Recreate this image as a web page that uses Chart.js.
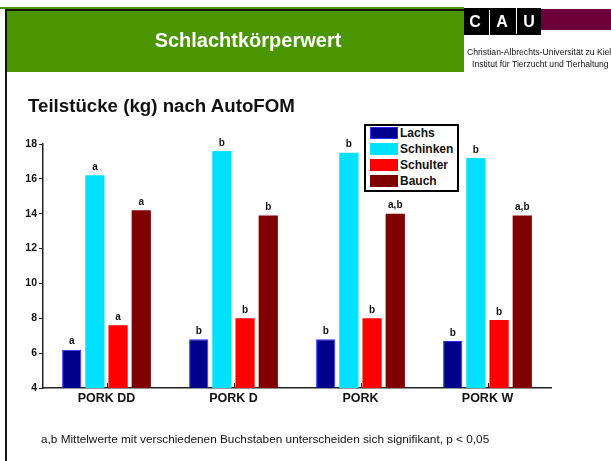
<!DOCTYPE html>
<html>
<head>
<meta charset="utf-8">
<script src="https://cdn.jsdelivr.net/npm/chart.js@4.4.1/dist/chart.umd.min.js"></script>
<style>
  body { margin: 0; width: 611px; height: 461px; overflow: hidden; background: #fff; font-family: Arial, "Liberation Sans", sans-serif; }
  .abs { position: absolute; }
  #chart { position: absolute; left: 0; top: 0; }
  #legend { position: absolute; left: 364px; top: 124px; width: 91px; height: 63px; border: 2px solid #000; background: #fff; padding-top: 1px; box-sizing: content-box; }
  .row { height: 16px; position: relative; }
  .sw { position: absolute; left: 4px; top: 0; width: 28px; height: 12px; box-sizing: border-box; }
  .lbl { position: absolute; left: 34px; top: -1px; font: bold 12px Arial, "Liberation Sans", sans-serif; line-height: 14px; color: #111; white-space: nowrap; }
</style>
</head>
<body>
<canvas id="chart" width="611" height="461"></canvas>

<div class="abs" style="left:0;top:7px;width:464px;height:2px;background:#4b9500"></div>
<div class="abs" style="left:5px;top:9px;width:459px;height:2px;background:#111"></div>
<div class="abs" style="left:5px;top:9px;width:2px;height:452px;background:#111"></div>
<div class="abs" style="left:7px;top:11px;width:457px;height:61px;background:#4b9500"></div>
<div class="abs" style="left:0;top:28px;width:496px;text-align:center;color:#fff;font:bold 20px Arial, 'Liberation Sans', sans-serif;line-height:24px">Schlachtkörperwert</div>

<div class="abs" style="left:464px;top:8px;width:77px;height:27px;background:#000"></div>
<div class="abs" style="left:541px;top:9px;width:70px;height:21px;background:#6d0039"></div>
<div class="abs" style="left:489px;top:10px;width:1px;height:25px;background:#fff"></div>
<div class="abs" style="left:516px;top:8px;width:1px;height:26px;background:#fff"></div>
<div class="abs" style="left:467px;top:12px;width:16px;text-align:center;color:#fff;font:bold 16px Arial, 'Liberation Sans', sans-serif;line-height:20px">C</div>
<div class="abs" style="left:494px;top:12px;width:16px;text-align:center;color:#fff;font:bold 16px Arial, 'Liberation Sans', sans-serif;line-height:20px">A</div>
<div class="abs" style="left:521px;top:12px;width:16px;text-align:center;color:#fff;font:bold 16px Arial, 'Liberation Sans', sans-serif;line-height:20px">U</div>
<div class="abs" style="left:467px;top:47px;color:#111;font:8.6px Arial, 'Liberation Sans', sans-serif;line-height:10px;white-space:nowrap">Christian-Albrechts-Universität zu Kiel</div>
<div class="abs" style="left:472px;top:59px;color:#111;font:8.6px Arial, 'Liberation Sans', sans-serif;line-height:10px;white-space:nowrap">Institut für Tierzucht und Tierhaltung</div>

<div class="abs" style="left:28px;top:95px;color:#111;font:bold 18.7px Arial, 'Liberation Sans', sans-serif;line-height:22px;white-space:nowrap">Teilstücke (kg) nach AutoFOM</div>

<div id="legend"></div>

<div class="abs" style="left:41px;top:433px;color:#111;font:11.8px Arial, 'Liberation Sans', sans-serif;line-height:13px;white-space:nowrap">a,b Mittelwerte mit verschiedenen Buchstaben unterscheiden sich signifikant, p &lt; 0,05</div>

<script>
// categories and series
const categories = ['PORK DD', 'PORK D', 'PORK', 'PORK W'];
const seriesNames = ['Lachs', 'Schinken', 'Schulter', 'Bauch'];

const lachs    = [6.2, 6.8, 6.8, 6.7];
const schinken = [16.2, 17.6, 17.5, 17.2];
const schulter = [7.6, 8.0, 8.0, 7.9];
const bauch    = [14.2, 13.9, 14.0, 13.9];

// significance letters above the bars
const sigLachs    = ['a', 'b', 'b', 'b'];
const sigSchinken = ['a', 'b', 'b', 'b'];
const sigSchulter = ['a', 'b', 'b', 'b'];
const sigBauch    = ['a', 'b', 'a,b', 'a,b'];

const yTicks = [4, 6, 8, 10, 12, 14, 16, 18];

const colors = ['#00008c', '#00e1ff', '#ff0000', '#800000'];
const borders = ['#2a2aff', '#00e1ff', '#ff0000', '#800000'];

const values = [lachs, schinken, schulter, bauch];
const sigs = [sigLachs, sigSchinken, sigSchulter, sigBauch];

// html legend
const legendEl = document.getElementById('legend');
seriesNames.forEach((name, i) => {
    const row = document.createElement('div');
    row.className = 'row';
    row.innerHTML = '<div class="sw" style="background:' + colors[i] + ';border:1px solid ' + borders[i] + '"></div>' +
        '<div class="lbl">' + name + '</div>';
    legendEl.appendChild(row);
});

const barLabels = {
    id: 'barLabels',
    afterDatasetsDraw(chart) {
        const ctx = chart.ctx;
        ctx.save();
        ctx.font = 'bold 10px Arial, "Liberation Sans", sans-serif';
        ctx.fillStyle = '#111';
        ctx.textAlign = 'center';
        ctx.textBaseline = 'bottom';
        chart.data.datasets.forEach((ds, di) => {
            chart.getDatasetMeta(di).data.forEach((bar, i) => {
                ctx.fillText(ds.sig[i], bar.x, bar.y - 3);
            });
        });
        ctx.restore();
    }
};

// little inward ticks at the category centres
const innerTicks = {
    id: 'innerTicks',
    afterDatasetsDraw(chart) {
        const ctx = chart.ctx;
        const xs = chart.scales.x;
        const bottom = chart.chartArea.bottom;
        ctx.save();
        ctx.strokeStyle = '#222';
        ctx.lineWidth = 1;
        categories.forEach((c, i) => {
            const x = Math.round(xs.getPixelForValue(i)) + 0.5;
            ctx.beginPath();
            ctx.moveTo(x, bottom);
            ctx.lineTo(x, bottom - 5);
            ctx.stroke();
        });
        ctx.restore();
    }
};

const font = 'Arial, "Liberation Sans", sans-serif';

new Chart(document.getElementById('chart'), {
    type: 'bar',
    data: {
        labels: categories,
        datasets: seriesNames.map((name, i) => ({
            label: name,
            data: values[i],
            sig: sigs[i],
            backgroundColor: colors[i],
            borderColor: borders[i],
            borderWidth: i === 0 ? 1 : 0,
            categoryPercentage: 0.73,
            barPercentage: 0.83
        }))
    },
    options: {
        responsive: false,
        animation: false,
        layout: { padding: { left: 0, top: 144, right: 60, bottom: 48 } },
        plugins: {
            legend: { display: false },
            tooltip: { enabled: false }
        },
        scales: {
            x: {
                grid: { display: false, drawTicks: false },
                border: { display: true, color: '#222', width: 1.5 },
                ticks: { font: { family: font, size: 12.5, weight: 'bold' }, color: '#111', padding: 3 },
                afterFit: s => { s.height = 25; }
            },
            y: {
                min: 4,
                max: 18,
                afterBuildTicks: s => { s.ticks = yTicks.map(v => ({ value: v })); },
                ticks: { font: { family: font, size: 10.5, weight: 'bold' }, color: '#111', padding: 2 },
                grid: { drawOnChartArea: false, tickLength: 4, color: '#222', lineWidth: 1 },
                border: { color: '#222', width: 1.5 },
                afterFit: s => { s.width = 43; }
            }
        }
    },
    plugins: [barLabels, innerTicks]
});
</script>
</body>
</html>
